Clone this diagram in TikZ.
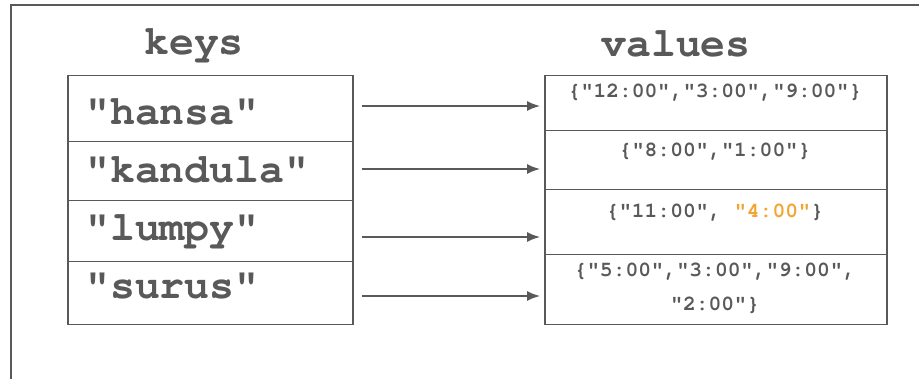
\documentclass[tikz,border=0pt]{standalone}
\usepackage{fontspec}
\setmonofont{TeX Gyre Cursor}
\usetikzlibrary{arrows.meta}

\definecolor{ink}{HTML}{595959}
\definecolor{hilite}{HTML}{F2A531}

\tikzset{
  cell/.style     = {draw=ink, line width=1.5pt, rectangle, anchor=north west, inner sep=0pt},
  key cell/.style = {cell, minimum width=285pt},
  val cell/.style = {cell, minimum width=342pt},
  title/.style    = {text=ink, anchor=base, inner sep=0pt, font=\ttfamily\bfseries\fontsize{41.5}{41.5}\selectfont},
  key/.style      = {text=ink, anchor=base west, inner sep=0pt, font=\ttfamily\bfseries\fontsize{41.5}{41.5}\selectfont},
  val/.style      = {text=ink, anchor=base, inner sep=0pt, align=center, font=\ttfamily\bfseries\fontsize{21.3}{34}\selectfont},
  link/.style     = {draw=ink, line width=1.5pt, -{Latex[length=13pt,width=10pt]}, shorten >=4pt}
}

\begin{document}
\begin{tikzpicture}[x=1pt, y=-1pt]

\useasboundingbox (0,0) rectangle (919,379);

% frame
\draw[ink, line width=1.5pt] (11,379) |- (919,5);

% headings
\node[title] (keys) at (194,55) {keys};
\node[title] (values) at (676,57) {values};

% the key column
\node[key cell, minimum height=66pt] (k1) at (67,75)  {};
\node[key cell, minimum height=59pt] (k2) at (67,141) {};
\node[key cell, minimum height=61pt] (k3) at (67,200) {};
\node[key cell, minimum height=63pt] (k4) at (67,261) {};

\node[key] (n1) at (85,125) {"hansa"};
\node[key] (n2) at (85,183) {"kandula"};
\node[key] (n3) at (85,241) {"lumpy"};
\node[key] (n4) at (85,299) {"surus"};

% the value column
\node[val cell, minimum height=55pt] (v1) at (544,75)  {};
\node[val cell, minimum height=59pt] (v2) at (544,130) {};
\node[val cell, minimum height=65pt] (v3) at (544,189) {};
\node[val cell, minimum height=70pt] (v4) at (544,254) {};

\node[val] (t1) at (715,98)  {\{"12:00","3:00","9:00"\}};
\node[val] (t2) at (715,157) {\{"8:00","1:00"\}};
\node[val] (t3) at (715,218) {\{"11:00", \textcolor{hilite}{"4:00"}\}};
% base of a two-line node sits on its last line
\node[val] (t4) at (715,311) {\{"5:00","3:00","9:00",\\"2:00"\}};

% key -> value
\foreach \i/\y in {1/106,2/169,3/237,4/296}
  \draw[link] ([xshift=8pt]k\i.east |- 0,\y) -- (v\i.west |- 0,\y);

\end{tikzpicture}
\end{document}
